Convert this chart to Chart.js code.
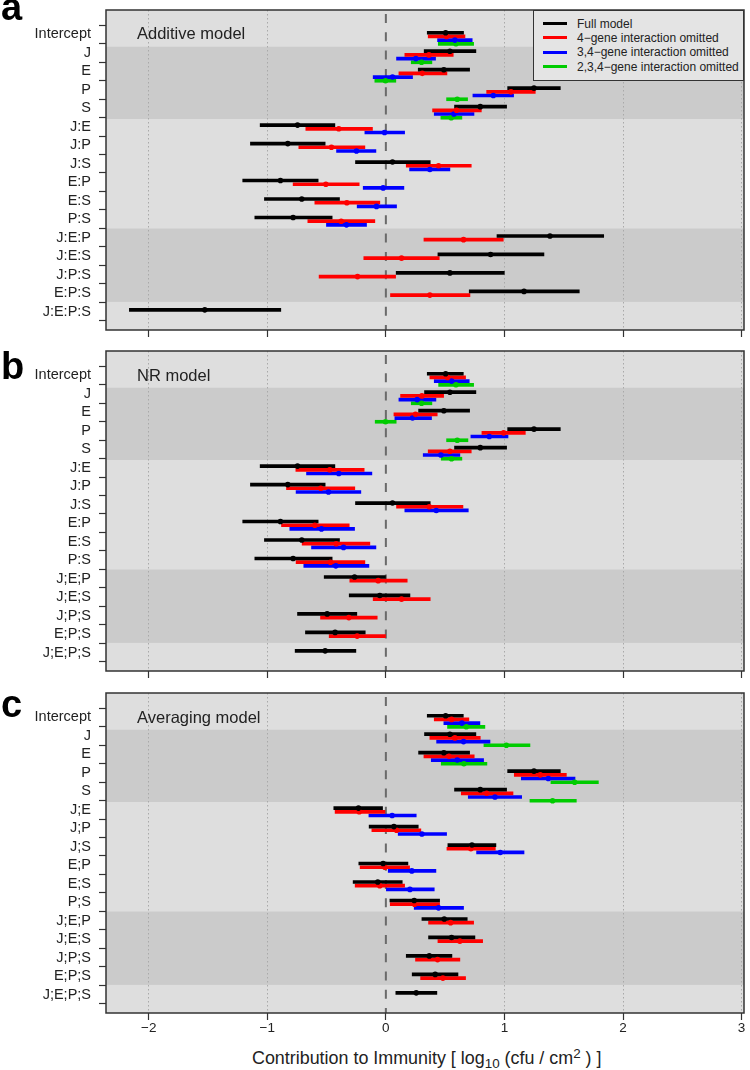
<!DOCTYPE html>
<html>
<head>
<meta charset="utf-8">
<script src="https://cdn.jsdelivr.net/npm/chart.js@4.4.1/dist/chart.umd.min.js"></script>
<style>
  html, body { margin:0; padding:0; background:#fff; }
  body { width:750px; height:1070px; position:relative; overflow:hidden; font-family:"Liberation Sans", Arial, Helvetica, sans-serif; }
  canvas { position:absolute; left:0; }
  .plab { position:absolute; left:1px; font-weight:bold; font-size:38px; line-height:38px; color:#000; }
  .mttl { position:absolute; left:137px; font-size:16.5px; line-height:20px; color:#222; white-space:nowrap; }
  #legend { position:absolute; left:533px; top:10px; width:211px; height:71px; box-sizing:border-box; border:1.5px solid #333; background:#e4e4e4; }
  .lgl { position:absolute; left:9px; width:24px; height:3px; }
  .lgt { position:absolute; left:43px; font-size:12px; line-height:14px; color:#222; white-space:nowrap; }
  #xtitle { position:absolute; left:252px; top:1048px; font-size:17.9px; line-height:20px; color:#222; white-space:nowrap; }
  #xtitle .sb { font-size:0.75em; position:relative; top:0.3em; }
  #xtitle .sp { font-size:0.75em; position:relative; top:-0.45em; }
</style>
</head>
<body>
<canvas id="cA" width="750" height="345" style="top:0px"></canvas>
<canvas id="cB" width="750" height="345" style="top:341px"></canvas>
<canvas id="cC" width="750" height="360" style="top:683px"></canvas>

<div class="plab" style="top:-12px">a</div>
<div class="plab" style="top:347px">b</div>
<div class="plab" style="top:685px">c</div>

<div class="mttl" style="top:23px">Additive model</div>
<div class="mttl" style="top:365px">NR model</div>
<div class="mttl" style="top:707px">Averaging model</div>

<div id="legend"></div>

<div id="xtitle">Contribution to Immunity [ log<span class="sb">10</span> (cfu / cm<span class="sp">2</span> ) ]</div>

<script>
// ---------------- data ----------------
const catsA = ['Intercept','J','E','P','S','J:E','J:P','J:S','E:P','E:S','P:S','J:E:P','J:E:S','J:P:S','E:P:S','J:E:P:S'];
const catsB = ['Intercept','J','E','P','S','J:E','J:P','J:S','E:P','E:S','P:S','J;E;P','J;E;S','J;P;S','E;P;S','J;E;P;S'];
const catsC = ['Intercept','J','E','P','S','J;E','J;P','J;S','E;P','E;S','P;S','J;E;P','J;E;S','J;P;S','E;P;S','J;E;P;S'];
const xTicks = [-2, -1, 0, 1, 2, 3];
const seriesNames = ['Full model', '4\u2212gene interaction omitted', '3,4\u2212gene interaction omitted', '2,3,4\u2212gene interaction omitted'];
const seriesColors = ['#000000', '#ff0000', '#0000ff', '#00cc00'];

// each entry: [lower, estimate, upper]; null = term not in that model
const addFull = [[0.349,0.504,0.655],[0.323,0.540,0.759],[0.273,0.489,0.706],[1.027,1.249,1.471],[0.579,0.796,1.018],
  [-1.060,-0.745,-0.430],[-1.142,-0.827,-0.512],[-0.256,0.056,0.374],[-1.207,-0.889,-0.571],[-1.024,-0.709,-0.391],[-1.105,-0.782,-0.453],
  [0.937,1.384,1.837],[0.439,0.883,1.333],[0.087,0.540,0.999],[0.703,1.165,1.631],[-2.163,-1.527,-0.886]];
const add4 = [[0.357,0.512,0.667],[0.160,0.363,0.568],[0.110,0.307,0.515],[0.850,1.055,1.260],[0.394,0.596,0.805],
  [-0.675,-0.397,-0.113],[-0.734,-0.459,-0.177],[0.172,0.444,0.720],[-0.782,-0.506,-0.225],[-0.599,-0.329,-0.051],[-0.658,-0.377,-0.093],
  [0.321,0.655,0.990],[-0.186,0.132,0.450],[-0.563,-0.239,0.082],[0.039,0.371,0.709],null];
const add34 = [[0.436,0.582,0.728],[0.090,0.253,0.419],[-0.107,0.056,0.225],[0.734,0.906,1.077],[0.408,0.574,0.743],
  [-0.177,-0.011,0.158],[-0.416,-0.248,-0.084],[0.200,0.371,0.540],[-0.191,-0.023,0.152],[-0.242,-0.079,0.090],[-0.501,-0.332,-0.163],
  null,null,null,null,null];
const add234 = [[0.442,0.591,0.740],[0.214,0.301,0.388],[-0.093,-0.003,0.084],[0.512,0.602,0.689],[0.464,0.551,0.641],
  null,null,null,null,null,null,null,null,null,null,null];

const nrFull = [[0.349,0.504,0.653],[0.326,0.540,0.759],[0.276,0.489,0.706],[1.027,1.249,1.471],[0.579,0.796,1.018],
  [-1.060,-0.745,-0.430],[-1.142,-0.827,-0.512],[-0.256,0.056,0.374],[-1.207,-0.889,-0.571],[-1.024,-0.709,-0.391],[-1.105,-0.782,-0.453],
  [-0.520,-0.264,-0.003],[-0.309,-0.051,0.203],[-0.745,-0.495,-0.245],[-0.678,-0.428,-0.174],[-0.765,-0.512,-0.253]];
const nr4 = [[0.371,0.520,0.672],[0.124,0.304,0.487],[0.068,0.250,0.433],[0.810,0.993,1.176],[0.357,0.540,0.720],
  [-0.759,-0.473,-0.183],[-0.838,-0.549,-0.262],[0.090,0.366,0.650],[-0.880,-0.599,-0.309],[-0.706,-0.419,-0.135],[-0.757,-0.467,-0.177],
  [-0.304,-0.065,0.180],[-0.107,0.132,0.374],[-0.551,-0.312,-0.073],[-0.478,-0.242,-0.003],null];
const nr34 = [[0.408,0.554,0.703],[0.110,0.264,0.422],[0.076,0.225,0.385],[0.717,0.872,1.030],[0.315,0.464,0.624],
  [-0.669,-0.397,-0.118],[-0.757,-0.484,-0.211],[0.160,0.425,0.695],[-0.810,-0.543,-0.264],[-0.627,-0.357,-0.084],[-0.692,-0.422,-0.143],
  null,null,null,null,null];
const nr234 = [[0.445,0.591,0.740],[0.214,0.301,0.388],[-0.090,-0.003,0.087],[0.512,0.602,0.692],[0.467,0.554,0.641],
  null,null,null,null,null,null,null,null,null,null,null];

const avgFull = [[0.349,0.504,0.653],[0.326,0.540,0.759],[0.276,0.489,0.706],[1.027,1.249,1.471],[0.579,0.796,1.018],
  [-0.439,-0.231,-0.028],[-0.141,0.068,0.273],[0.523,0.726,0.928],[-0.228,-0.023,0.186],[-0.276,-0.068,0.138],[0.034,0.239,0.453],
  [0.304,0.492,0.686],[0.360,0.554,0.751],[0.172,0.366,0.557],[0.222,0.416,0.608],[0.084,0.256,0.430]];
const avg4 = [[0.408,0.554,0.700],[0.371,0.582,0.796],[0.321,0.532,0.745],[1.083,1.302,1.522],[0.636,0.850,1.072],
  [-0.428,-0.225,-0.008],[-0.118,0.090,0.295],[0.515,0.717,0.923],[-0.217,-0.008,0.200],[-0.259,-0.051,0.158],[0.037,0.242,0.453],
  [0.360,0.546,0.740],[0.439,0.624,0.816],[0.250,0.436,0.624],[0.293,0.481,0.672],null];
const avg34 = [[0.489,0.641,0.793],[0.428,0.655,0.878],[0.383,0.602,0.824],[1.142,1.370,1.595],[0.695,0.920,1.145],
  [-0.143,0.053,0.256],[0.104,0.304,0.512],[0.765,0.965,1.165],[0.020,0.219,0.422],[0.000,0.203,0.408],[0.239,0.444,0.655],
  null,null,null,null,null];
const avg234 = [[0.520,0.678,0.835],[0.827,1.016,1.215],[0.467,0.658,0.852],[1.392,1.592,1.792],[1.215,1.406,1.606],
  null,null,null,null,null,null,null,null,null,null,null];

// ---------------- layout / style constants ----------------
const FONT = '"Liberation Sans", Arial, Helvetica, sans-serif';
const ROW_OFFSETS = [-0.09, 0.11, 0.31, 0.51];      // vertical shift of each series within a row
const DARK_BANDS = [[0.67, 4.58], [10.51, 14.48]];   // in row units
const LIGHT_BG = '#dedede', DARK_BG = '#cbcbcb';

// legend
(function () {
  const lg = document.getElementById('legend');
  const ys = [14, 28.3, 42.7, 57];
  seriesNames.forEach((n, i) => {
    const l = document.createElement('div');
    l.className = 'lgl';
    l.style.top = (ys[i] - 1.5 - 1.5) + 'px';
    l.style.background = seriesColors[i];
    lg.appendChild(l);
    const t = document.createElement('div');
    t.className = 'lgt';
    t.style.top = (ys[i] - 7 - 1.5) + 'px';
    t.textContent = n;
    lg.appendChild(t);
  });
})();

const deco = {
  id: 'deco',
  beforeDraw(chart) {
    const { ctx, chartArea: a, scales: { y } } = chart;
    ctx.save();
    ctx.fillStyle = LIGHT_BG;
    ctx.fillRect(a.left, a.top, a.right - a.left, a.bottom - a.top);
    ctx.fillStyle = DARK_BG;
    DARK_BANDS.forEach(([b0, b1]) => {
      const p0 = y.getPixelForValue(b0), p1 = y.getPixelForValue(b1);
      ctx.fillRect(a.left, Math.min(p0, p1), a.right - a.left, Math.abs(p1 - p0));
    });
    ctx.restore();
  },
  beforeDatasetsDraw(chart) {
    const { ctx, chartArea: a, scales: { x } } = chart;
    const x0 = x.getPixelForValue(0);
    ctx.save();
    ctx.strokeStyle = '#6a6a6a';
    ctx.lineWidth = 2;
    ctx.setLineDash([9, 9.3]);
    ctx.lineDashOffset = -4;
    ctx.beginPath();
    ctx.moveTo(x0, a.top);
    ctx.lineTo(x0, a.bottom);
    ctx.stroke();
    ctx.restore();
  },
  afterDatasetsDraw(chart) {
    const { ctx, chartArea: a } = chart;
    ctx.save();
    ctx.strokeStyle = '#333';
    ctx.lineWidth = 1.5;
    ctx.strokeRect(a.left, a.top, a.right - a.left, a.bottom - a.top);
    ctx.restore();
  }
};

function makePanel(id, cats, series, showX) {
  const datasets = [];
  series.forEach((ser, s) => {
    const bars = [], pts = [];
    ser.forEach((t, i) => {
      if (!t) return;
      const yy = i + ROW_OFFSETS[s];
      bars.push({ y: yy, x: [t[0], t[2]] });
      pts.push({ x: t[1], y: yy });
    });
    datasets.push({
      type: 'bar', indexAxis: 'y', grouped: false, data: bars,
      backgroundColor: seriesColors[s], borderWidth: 0, borderSkipped: false,
      barThickness: 3, maxBarThickness: 3, barPercentage: 1, categoryPercentage: 1, order: 2
    });
    datasets.push({
      type: 'scatter', data: pts, showLine: false,
      pointRadius: 2.8, pointHoverRadius: 2.8, pointBorderWidth: 0,
      pointBackgroundColor: seriesColors[s], backgroundColor: seriesColors[s], order: 1
    });
  });

  new Chart(document.getElementById(id), {
    type: 'scatter',
    data: { datasets },
    options: {
      responsive: false, animation: false, devicePixelRatio: 1,
      layout: { padding: { top: 10, right: 6, left: 0, bottom: 0 } },
      plugins: { legend: { display: false }, tooltip: { enabled: false } },
      scales: {
        x: {
          type: 'linear', min: -2.36, max: 3.02, offset: false,
          afterBuildTicks: sc => { sc.ticks = xTicks.map(v => ({ value: v })); },
          afterFit: sc => { sc.height = showX ? 30 : 15; sc.paddingLeft = 0; sc.paddingRight = 0; sc.paddingTop = 0; sc.paddingBottom = 0; },
          grid: {
            display: true, drawOnChartArea: true, drawTicks: true, tickLength: 7,
            color: c => (c.tick && c.tick.value === 0) ? 'rgba(0,0,0,0)' : '#a9a9a9',
            lineWidth: 1, tickColor: '#333', tickWidth: 1.2, tickBorderDash: []
          },
          border: { display: false, dash: [1.5, 2.5] },
          ticks: {
            display: showX, padding: 0, color: '#222', autoSkip: false, maxRotation: 0,
            font: { family: FONT, size: 13.5 },
            callback: v => String(v).replace('-', '\u2212')
          }
        },
        y: {
          type: 'linear', reverse: true, min: -1.32, max: 16.0, offset: false,
          afterBuildTicks: sc => { sc.ticks = cats.map((c, i) => ({ value: i })); },
          afterFit: sc => { sc.width = 106; sc.paddingTop = 0; sc.paddingBottom = 0; sc.paddingLeft = 0; sc.paddingRight = 0; },
          grid: { display: true, drawOnChartArea: false, drawTicks: true, tickLength: 7, tickColor: '#333', tickWidth: 1.2 },
          border: { display: false },
          ticks: {
            padding: 8, color: '#222', autoSkip: false,
            font: { family: FONT, size: 14.5 },
            callback: v => cats[v]
          }
        }
      }
    },
    plugins: [deco]
  });
}

makePanel('cA', catsA, [addFull, add4, add34, add234], false);
makePanel('cB', catsB, [nrFull, nr4, nr34, nr234], false);
makePanel('cC', catsC, [avgFull, avg4, avg34, avg234], true);
</script>
</body>
</html>
